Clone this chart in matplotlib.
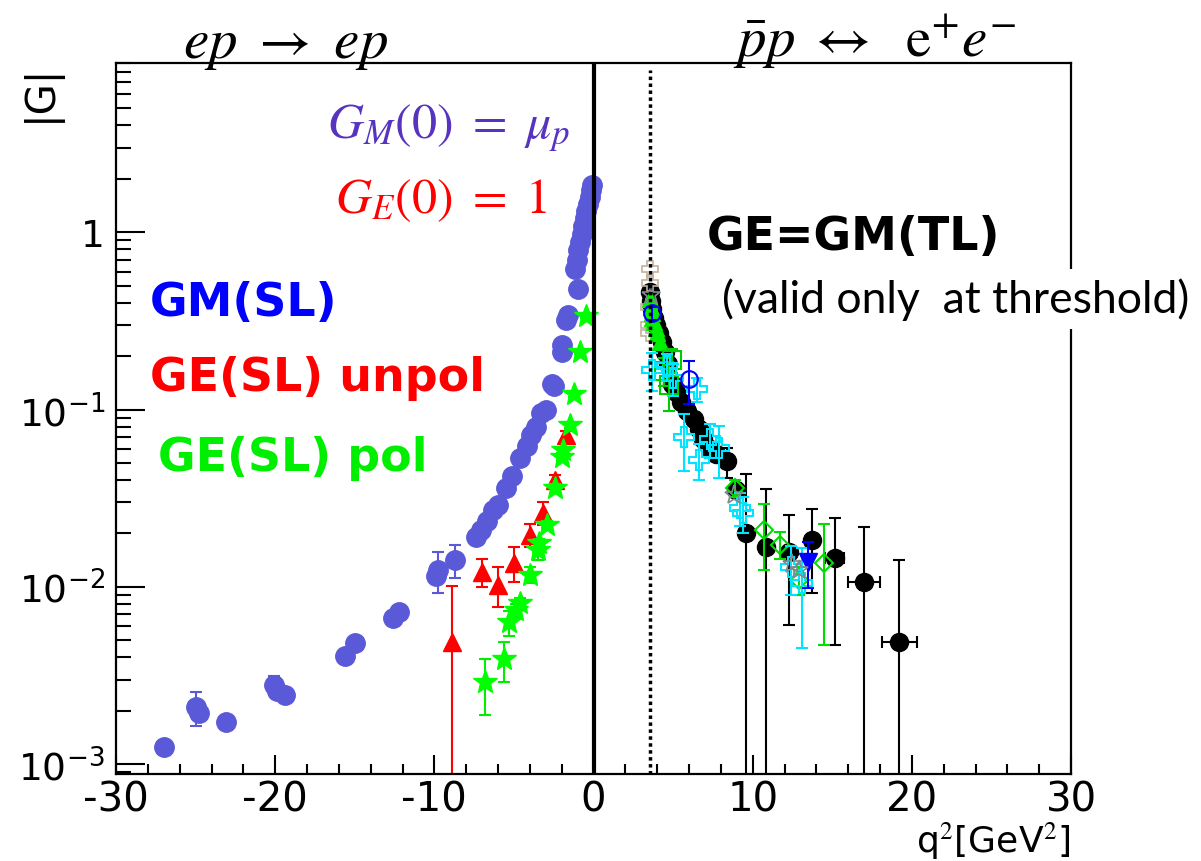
import matplotlib
matplotlib.use("Agg")
import matplotlib.pyplot as plt
from matplotlib.ticker import MultipleLocator, FixedLocator, FixedFormatter, LogLocator, NullFormatter

plt.rcParams['mathtext.fontset'] = 'stix'
plt.rcParams['axes.unicode_minus'] = False

# space-like region: e p -> e p
gm_q2 = [-27.0, -25.0, -24.8, -23.1, -20.1, -19.9, -19.4, -15.6, -15.0, -12.6, -12.2,
         -9.9, -9.8, -8.7, -7.4, -7.1, -6.7, -6.3, -6.0, -5.5, -5.1, -4.6, -4.2, -3.9,
         -3.6, -3.3, -3.0, -2.6, -2.5, -2.0, -1.95, -1.7, -1.6, -1.0,
         -1.15, -1.05, -0.95, -0.85, -0.75, -0.65, -0.55, -0.45, -0.35, -0.25, -0.15, -0.08]
gm_val = [1.25e-3, 2.1e-3, 1.95e-3, 1.73e-3, 2.8e-3, 2.6e-3, 2.45e-3, 4.1e-3, 4.8e-3, 6.7e-3, 7.2e-3,
          0.0115, 0.0125, 0.0142, 0.019, 0.021, 0.0235, 0.027, 0.029, 0.036, 0.042, 0.053, 0.062, 0.072,
          0.080, 0.096, 0.10, 0.14, 0.135, 0.21, 0.23, 0.32, 0.34, 0.48,
          0.62, 0.70, 0.79, 0.88, 0.98, 1.08, 1.2, 1.32, 1.45, 1.58, 1.72, 1.85]
gm_err = [0, 0.45e-3, 0, 0, 0.35e-3, 0, 0, 0, 0, 0, 0,
          0, 0.0033, 0.003, 0, 0, 0, 0, 0, 0, 0, 0, 0, 0,
          0, 0, 0, 0, 0, 0, 0, 0, 0, 0,
          0, 0, 0, 0, 0, 0, 0, 0, 0, 0, 0, 0]

ge_un_q2 = [-8.9, -7.0, -6.0, -5.0, -4.0, -3.2, -2.45, -1.7]
ge_un_val = [0.0049, 0.0122, 0.0103, 0.0137, 0.0197, 0.0262, 0.040, 0.072]
ge_un_err = [0.0052, 0.0022, 0.0026, 0.003, 0.003, 0.004, 0.003, 0.004]

ge_pol_q2 = [-6.8, -5.65, -5.3, -4.85, -4.65, -4.0, -3.5, -3.45, -2.95, -2.45, -1.95, -1.9,
             -1.5, -1.25, -0.88, -0.5]
ge_pol_val = [0.0029, 0.0039, 0.0063, 0.0074, 0.0081, 0.0117, 0.0162, 0.0177, 0.0224, 0.036,
              0.054, 0.059, 0.082, 0.122, 0.21, 0.335]
ge_pol_err = [0.001, 0.001, 0.001, 0.0006, 0.0006, 0.0012, 0.002, 0.001, 0.001, 0.002,
              0.003, 0.002, 0.003, 0.004, 0.005, 0.005]

# time-like region: pbar p <-> e+ e-
bk_q2 = [3.52, 3.6, 3.7, 3.8, 3.95, 4.1, 4.3, 4.5, 4.7, 4.95, 5.2, 5.5, 5.9, 6.3, 6.6, 6.9,
         7.3, 7.7, 8.4, 8.97, 9.6, 10.85, 12.3, 13.7, 15.15, 17.0, 19.2]
bk_val = [0.46, 0.41, 0.37, 0.33, 0.30, 0.27, 0.24, 0.21, 0.18, 0.14, 0.125, 0.11, 0.098, 0.088,
          0.078, 0.068, 0.06, 0.056, 0.051, 0.0353, 0.0202, 0.0168, 0.0158, 0.0184, 0.0146,
          0.0107, 0.0049]
bk_err = [0.02, 0.02, 0.02, 0.015, 0.015, 0.015, 0.012, 0.012, 0.01, 0.01, 0.01, 0.008, 0.008,
          0.007, 0.007, 0.006, 0.006, 0.005, 0.01, 0.003, 0.023, 0.019, 0.0097, 0.0092, 0.0099,
          0.011, 0.0093]
bk_xerr = [0, 0, 0, 0, 0, 0, 0, 0, 0, 0, 0, 0, 0, 0, 0, 0,
           0, 0, 0, 0, 0, 0, 0.4, 0, 0.6, 1.0, 1.1]

lime_q2 = [3.55, 3.6, 3.65, 3.7, 3.8, 3.9, 4.0, 4.2]
lime_val = [0.42, 0.38, 0.35, 0.33, 0.31, 0.29, 0.27, 0.24]

gsq_q2 = [4.4, 4.77, 4.9]
gsq_val = [0.165, 0.138, 0.19]
gsq_err = [0.03, 0.04, 0.03]

gdia_q2 = [8.9, 10.7, 11.7, 12.9, 14.45]
gdia_val = [0.036, 0.021, 0.0173, 0.011, 0.0137]
gdia_err = [0.004, 0.0085, 0.003, 0.002, 0.009]

cy_q2 = [3.7, 4.6, 5.0, 5.7, 6.5, 6.65, 7.3, 7.9, 9.2, 9.4, 12.4, 13.1]
cy_val = [0.168, 0.175, 0.15, 0.070, 0.13, 0.052, 0.068, 0.061, 0.028, 0.026, 0.013, 0.0105]
cy_err = [0.04, 0.03, 0.03, 0.025, 0.02, 0.012, 0.015, 0.02, 0.006, 0.006, 0.004, 0.006]

bo_q2 = [3.7, 6.0]
bo_val = [0.35, 0.148]
bo_err = [0.03, 0.04]

btri_q2 = [13.5]
btri_val = [0.0138]
btri_err = [0.004]

gray_q2 = [3.6, 8.8, 12.5, 12.9]
gray_val = [0.44, 0.033, 0.0135, 0.0125]

tan_q2 = [3.52, 3.52, 3.48, 3.5, 3.5]
tan_val = [0.62, 0.52, 0.38, 0.30, 0.27]

threshold = 3.52

y_ticks = [1e-3, 1e-2, 1e-1, 1]
y_labels = [r'$\mathregular{10^{-3}}$', r'$\mathregular{10^{-2}}$', r'$\mathregular{10^{-1}}$', '1']


def px(x, y):
    return x / 1201, 1 - y / 862


fig = plt.figure(figsize=(12.01, 8.62), dpi=100)
ax = fig.add_axes([0.0966, 0.1009, 0.7952, 0.8248])
ax.set_yscale('log')
ax.set_xlim(-30, 30)
ax.set_ylim(8.8e-4, 9.0)

eb = dict(fmt='none', capsize=4, elinewidth=1.5, capthick=1.5)

# SL data
ax.errorbar(gm_q2, gm_val, yerr=gm_err, ecolor='#5a5ad8', **eb)
ax.plot(gm_q2, gm_val, 'o', color='#5a5ad8', ms=14, mec='#5a5ad8')
ax.errorbar(ge_un_q2, ge_un_val, yerr=ge_un_err, ecolor='#ff0000', **eb)
ax.plot(ge_un_q2, ge_un_val, '^', color='#ff0000', ms=13)
ax.errorbar(ge_pol_q2, ge_pol_val, yerr=ge_pol_err, ecolor='#00ee00', **eb)
ax.plot(ge_pol_q2, ge_pol_val, '*', color='#00ff00', ms=18)

# TL data
ax.errorbar(bk_q2, bk_val, yerr=bk_err, xerr=bk_xerr, ecolor='black', **eb)
ax.plot(bk_q2, bk_val, 'o', color='black', ms=13)
ax.plot(tan_q2, tan_val, 'P', mfc='none', mec='#c4b09c', ms=11, mew=1.2)
ax.plot(lime_q2, lime_val, '^', color='#00ee00', ms=12)
ax.errorbar(gsq_q2, gsq_val, yerr=gsq_err, ecolor='#00cc00', **eb)
ax.plot(gsq_q2, gsq_val, 's', mfc='none', mec='#00cc00', ms=13, mew=1.5)
ax.errorbar(gdia_q2, gdia_val, yerr=gdia_err, ecolor='#00dd00', **eb)
ax.plot(gdia_q2, gdia_val, 'D', mfc='none', mec='#00dd00', ms=9, mew=1.5)
ax.errorbar(cy_q2, cy_val, yerr=cy_err, ecolor='#00e5ff', **eb)
ax.plot(cy_q2, cy_val, 'P', mfc='none', mec='#00e5ff', ms=14, mew=1.5)
ax.errorbar(bo_q2, bo_val, yerr=bo_err, ecolor='#0000ff', **eb)
ax.plot(bo_q2, bo_val, 'o', mfc='none', mec='#0000ff', ms=12, mew=1.5)
ax.errorbar(btri_q2, btri_val, yerr=btri_err, ecolor='#0000ff', **eb)
ax.plot(btri_q2, btri_val, 'v', color='#0000ff', ms=13)
ax.plot(gray_q2, gray_val, '*', mfc='none', mec='#7f8a90', ms=14, mew=1.2)

ax.axvline(0, color='black', lw=3)
ax.axvline(threshold, ymax=0.99, color='black', lw=2.5, ls=(0, (1, 1)))

# ROOT-like frame and ticks
for s in ax.spines.values():
    s.set_linewidth(1.6)
ax.xaxis.set_major_locator(MultipleLocator(10))
ax.xaxis.set_minor_locator(MultipleLocator(2))
ax.yaxis.set_major_locator(FixedLocator(y_ticks))
ax.yaxis.set_major_formatter(FixedFormatter(y_labels))
ax.yaxis.set_minor_locator(LogLocator(base=10, subs=range(2, 10)))
ax.yaxis.set_minor_formatter(NullFormatter())
ax.tick_params(axis='x', which='major', direction='in', length=14, width=1.5, labelsize=29, pad=4)
ax.tick_params(axis='x', which='minor', direction='in', length=7, width=1.5)
ax.tick_params(axis='y', which='major', direction='in', length=21, width=1.5, labelsize=27, pad=8)
ax.tick_params(axis='y', which='minor', direction='in', length=11, width=1.5)

fig.text(*px(40, 64), '|G|', rotation=90, ha='center', va='top', fontsize=29)
fig.text(*px(1071, 853), r'q$^2$[GeV$^2$]', ha='right', va='baseline', fontsize=26)

fig.text(*px(183, 45), r'$ep\ \rightarrow\ ep$', ha='left', va='center', fontsize=41)
fig.text(*px(733, 42), r'$\bar{p}p\ \leftrightarrow\ \ \mathrm{e}^{+}e^{-}$', ha='left', va='center', fontsize=41)
fig.text(*px(327, 128), r'$G_M(0)\ =\ \mu_p$', ha='left', va='center', fontsize=36, color='#5634c0')
fig.text(*px(335, 200), r'$G_E(0)\ =\ 1$', ha='left', va='center', fontsize=36, color='#ff0000')

fig.text(*px(150, 304), 'GM(SL)', ha='left', va='center', fontsize=33, fontweight='bold', color='#0000ff')
fig.text(*px(150, 379), 'GE(SL) unpol', ha='left', va='center', fontsize=33, fontweight='bold', color='#ff0000')
fig.text(*px(158, 459), 'GE(SL) pol', ha='left', va='center', fontsize=33, fontweight='bold', color='#00ee00')
fig.text(*px(707, 237), 'GE=GM(TL)', ha='left', va='center', fontsize=33, fontweight='bold', color='black')
fig.text(*px(722, 300), '(valid only  at threshold)', ha='left', va='center', fontsize=32,
         family='Lato', color='black',
         bbox=dict(facecolor='white', edgecolor='none', pad=6))

fig.savefig('out.png', dpi=100)
